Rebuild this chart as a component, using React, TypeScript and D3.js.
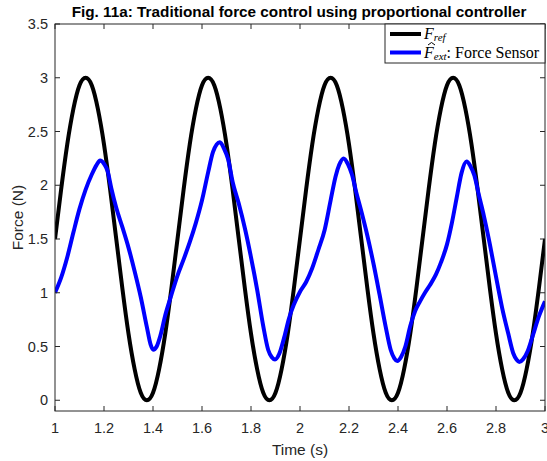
import React from "react";
import * as d3 from "d3";

// Figure size and plot frame
const W = 547;
const H = 461;
const M = { left: 55, right: 545, top: 24, bottom: 411 };

// Axis setup
const xDomain: [number, number] = [1, 3];
const yDomain: [number, number] = [-0.1, 3.5];
const xTicks = [1, 1.2, 1.4, 1.6, 1.8, 2, 2.2, 2.4, 2.6, 2.8, 3];
const yTicks = [0, 0.5, 1, 1.5, 2, 2.5, 3, 3.5];

// Reference force F_ref, sampled every 25 ms from t = 1 s to t = 3 s
const refStep = 0.025;
const refForce = [
  1.5, 1.96, 2.38, 2.71, 2.93, 3.0, 2.93, 2.71, 2.38, 1.96,
  1.5, 1.04, 0.62, 0.29, 0.07, 0.0, 0.07, 0.29, 0.62, 1.04,
  1.5, 1.96, 2.38, 2.71, 2.93, 3.0, 2.93, 2.71, 2.38, 1.96,
  1.5, 1.04, 0.62, 0.29, 0.07, 0.0, 0.07, 0.29, 0.62, 1.04,
  1.5, 1.96, 2.38, 2.71, 2.93, 3.0, 2.93, 2.71, 2.38, 1.96,
  1.5, 1.04, 0.62, 0.29, 0.07, 0.0, 0.07, 0.29, 0.62, 1.04,
  1.5, 1.96, 2.38, 2.71, 2.93, 3.0, 2.93, 2.71, 2.38, 1.96,
  1.5, 1.04, 0.62, 0.29, 0.07, 0.0, 0.07, 0.29, 0.62, 1.04,
  1.5,
];

// Measured force from the force sensor
const sensorTime = [
  1.0, 1.025, 1.05, 1.075, 1.1, 1.125, 1.15, 1.17, 1.184, 1.2,
  1.215, 1.23, 1.25, 1.275, 1.3, 1.325, 1.35, 1.375, 1.39, 1.401,
  1.415, 1.43, 1.45, 1.475, 1.5, 1.525, 1.55, 1.575, 1.6, 1.625,
  1.645, 1.66, 1.673, 1.69, 1.707, 1.725, 1.75, 1.775, 1.8, 1.825,
  1.85, 1.87, 1.885, 1.898, 1.915, 1.935, 1.955, 1.975, 2.0, 2.025,
  2.05, 2.075, 2.1, 2.125, 2.145, 2.16, 2.178, 2.195, 2.212, 2.23,
  2.25, 2.275, 2.3, 2.325, 2.35, 2.37, 2.385, 2.397, 2.412, 2.43,
  2.45, 2.47, 2.49, 2.51, 2.53, 2.555, 2.575, 2.6, 2.62, 2.64,
  2.66, 2.68, 2.695, 2.712, 2.73, 2.75, 2.775, 2.8, 2.825, 2.85,
  2.87, 2.885, 2.895, 2.91, 2.93, 2.95, 2.975, 3.0,
];
const sensorForce = [
  1.0, 1.14, 1.33, 1.56, 1.78, 1.96, 2.1, 2.19, 2.23, 2.2,
  2.13, 1.97, 1.79, 1.61, 1.42, 1.2, 0.96, 0.68, 0.52, 0.47,
  0.5, 0.6, 0.79, 0.98, 1.16, 1.31, 1.47, 1.65, 1.86, 2.12,
  2.31, 2.38, 2.4, 2.34, 2.24, 2.03, 1.83, 1.6, 1.33, 1.03,
  0.69, 0.47, 0.4, 0.38, 0.43, 0.58, 0.76, 0.89, 1.01, 1.1,
  1.23, 1.4, 1.58, 1.86, 2.08, 2.19, 2.25, 2.2, 2.1, 1.93,
  1.76, 1.53, 1.27, 0.98, 0.68, 0.47, 0.39, 0.365, 0.4, 0.5,
  0.69, 0.83, 0.92, 1.0, 1.07, 1.17, 1.28, 1.45, 1.65, 1.89,
  2.12, 2.22, 2.18, 2.09, 1.91, 1.72, 1.45, 1.15, 0.86, 0.62,
  0.44, 0.375, 0.355, 0.38, 0.46, 0.6, 0.78, 0.92,
];

const axisColor = "#262626";
const sans = "'Liberation Sans', Arial, Helvetica, sans-serif";
const serif = "'Liberation Serif', 'Times New Roman', serif";

export default function App() {
  const x = d3.scaleLinear().domain(xDomain).range([M.left, M.right]);
  const y = d3.scaleLinear().domain(yDomain).range([M.bottom, M.top]);

  const refPts: [number, number][] = refForce.map((v, i) => [
    xDomain[0] + i * refStep,
    v,
  ]);
  const sensorPts: [number, number][] = sensorTime.map((t, i) => [
    t,
    sensorForce[i],
  ]);

  const line = d3
    .line<[number, number]>()
    .x((d) => x(d[0]))
    .y((d) => y(d[1]));
  const refPath = line.curve(d3.curveNatural)(refPts) || "";
  const sensorPath = line.curve(d3.curveMonotoneX)(sensorPts) || "";

  const tickLen = 5;
  const fmt = (v: number) => String(v);

  return (
    <svg
      width={W}
      height={H}
      style={{ position: "absolute", left: 0, top: 0, background: "#fff" }}
    >
      <defs>
        <clipPath id="plotArea">
          <rect
            x={M.left}
            y={M.top}
            width={M.right - M.left}
            height={M.bottom - M.top}
          />
        </clipPath>
      </defs>
      <rect x={0} y={0} width={W} height={H} fill="#fff" />

      {/* Title */}
      <text
        x={299}
        y={17}
        textAnchor="middle"
        fontFamily={sans}
        fontWeight="bold"
        fontSize={15.3}
        fill="#000"
      >
        Fig. 11a: Traditional force control using proportional controller
      </text>

      {/* Data lines */}
      <g clipPath="url(#plotArea)">
        <path
          d={refPath}
          fill="none"
          stroke="#000"
          strokeWidth={4}
          strokeLinejoin="round"
        />
        <path
          d={sensorPath}
          fill="none"
          stroke="#0000ff"
          strokeWidth={4}
          strokeLinejoin="round"
        />
      </g>

      {/* Axes box */}
      <rect
        x={M.left}
        y={M.top}
        width={M.right - M.left}
        height={M.bottom - M.top}
        fill="none"
        stroke={axisColor}
        strokeWidth={1}
      />

      {/* X ticks and labels */}
      {xTicks.map((t) => (
        <g key={"x" + t}>
          <line
            x1={x(t)}
            x2={x(t)}
            y1={M.bottom}
            y2={M.bottom - tickLen}
            stroke={axisColor}
          />
          <line
            x1={x(t)}
            x2={x(t)}
            y1={M.top}
            y2={M.top + tickLen}
            stroke={axisColor}
          />
          <text
            x={x(t)}
            y={433}
            textAnchor="middle"
            fontFamily={sans}
            fontSize={14.5}
            fill={axisColor}
          >
            {fmt(t)}
          </text>
        </g>
      ))}

      {/* Y ticks and labels */}
      {yTicks.map((t) => (
        <g key={"y" + t}>
          <line
            x1={M.left}
            x2={M.left + tickLen}
            y1={y(t)}
            y2={y(t)}
            stroke={axisColor}
          />
          <line
            x1={M.right}
            x2={M.right - tickLen}
            y1={y(t)}
            y2={y(t)}
            stroke={axisColor}
          />
          <text
            x={48}
            y={y(t) + 5}
            textAnchor="end"
            fontFamily={sans}
            fontSize={14.5}
            fill={axisColor}
          >
            {fmt(t)}
          </text>
        </g>
      ))}

      {/* Axis titles */}
      <text
        x={(M.left + M.right) / 2}
        y={455}
        textAnchor="middle"
        fontFamily={sans}
        fontSize={15.5}
        fill={axisColor}
      >
        Time (s)
      </text>
      <text
        transform={`translate(23, ${(M.top + M.bottom) / 2}) rotate(-90)`}
        textAnchor="middle"
        fontFamily={sans}
        fontSize={15.5}
        fill={axisColor}
      >
        Force (N)
      </text>

      {/* Legend */}
      <g>
        <rect
          x={385}
          y={M.top}
          width={M.right - 385}
          height={39}
          fill="#fff"
          stroke={axisColor}
          strokeWidth={1}
        />
        <line x1={390} x2={421} y1={34} y2={34} stroke="#000" strokeWidth={4} />
        <text x={424} y={39} fontFamily={serif} fontSize={16} fill="#000">
          <tspan fontStyle="italic">F</tspan>
          <tspan fontStyle="italic" fontSize={11} dy={2}>
            ref
          </tspan>
        </text>
        <line
          x1={390}
          x2={421}
          y1={52.5}
          y2={52.5}
          stroke="#0000ff"
          strokeWidth={4}
        />
        {/* hat accent over F */}
        <path
          d="M428,45 L431.5,42.5 L435,45"
          fill="none"
          stroke="#000"
          strokeWidth={1}
        />
        <text x={424} y={57.5} fontFamily={serif} fontSize={16} fill="#000">
          <tspan fontStyle="italic">F</tspan>
          <tspan fontStyle="italic" fontSize={11} dy={2}>
            ext
          </tspan>
          <tspan dy={-2}>: Force Sensor</tspan>
        </text>
      </g>
    </svg>
  );
}
